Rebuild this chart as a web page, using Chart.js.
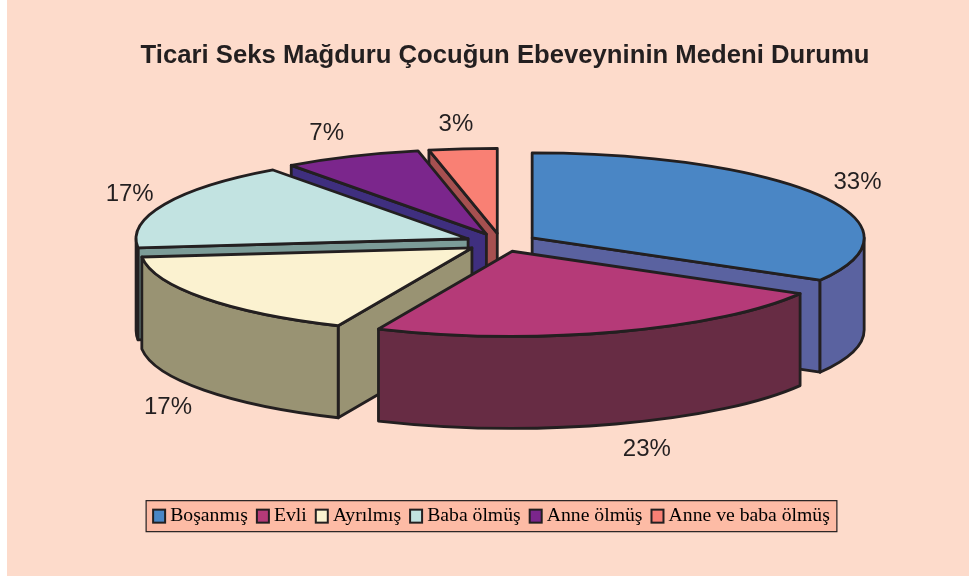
<!DOCTYPE html>
<html>
<head>
  <title>Ticari Seks Mağduru Çocuğun Ebeveyninin Medeni Durumu</title>
  <script src="https://cdn.jsdelivr.net/npm/chart.js"></script>
  <style>
    body { margin: 0; background-color: #fff; overflow: hidden; }
    #frame { position: absolute; left: 7px; top: 0; width: 962px; height: 576px; background-color: #fddbcb; }
    canvas { position: absolute; left: 0; top: 0; }
  </style>
</head>
<body>
  <div id="frame"></div>
  <canvas id="pie" width="969" height="576"></canvas>
  <script>
    const chartTitle = 'Ticari Seks Mağduru Çocuğun Ebeveyninin Medeni Durumu';
    const categories = ['Boşanmış', 'Evli', 'Ayrılmış', 'Baba ölmüş', 'Anne ölmüş', 'Anne ve baba ölmüş'];
    const percents = [33.3, 23.3, 16.7, 16.7, 6.7, 3.3];

    const topColors = ['#4a86c5', '#b53a78', '#fbf2d0', '#c2e3e1', '#7b268c', '#f98074'];
    const sideColors = ['#5a62a0', '#672c44', '#999373', '#7c9c98', '#3f2f7f', '#a65050'];
    const ink = '#231f20';

    // look of the tilted pie, in screen px
    const centerX = 501, centerY = 242.5, radiusX = 332, radiusY = 85, depth = 92;
    const explode = 36 / 332; // share of the radius each slice is pulled out
    const paintOrder = [5, 4, 3, 0, 2, 1]; // back to front
    const labelNudges = [[38, -13], [31, 117], [-36, 109], [-35, -10], [-25, -23], [-7, -24]];

    function sliceGeometry(el) {
      const mid = (el.startAngle + el.endAngle) / 2;
      return {
        mid,
        sx: radiusX / el.outerRadius,
        sy: radiusY / el.outerRadius,
        tipX: centerX + Math.cos(mid) * explode * radiusX,
        tipY: centerY + Math.sin(mid) * explode * radiusY
      };
    }

    function cutFace(ctx, g, angle, color) {
      const x = g.tipX + Math.cos(angle) * radiusX, y = g.tipY + Math.sin(angle) * radiusY;
      ctx.beginPath();
      ctx.moveTo(g.tipX, g.tipY);
      ctx.lineTo(x, y);
      ctx.lineTo(x, y + depth);
      ctx.lineTo(g.tipX, g.tipY + depth);
      ctx.closePath();
      ctx.fillStyle = color;
      ctx.fill();
      ctx.stroke();
    }

    function outerWall(ctx, g, el, color) {
      const a = Math.max(el.startAngle, 0), b = Math.min(el.endAngle, Math.PI);
      if (b <= a) return;
      ctx.beginPath();
      ctx.ellipse(g.tipX, g.tipY, radiusX, radiusY, 0, a, b);
      ctx.ellipse(g.tipX, g.tipY + depth, radiusX, radiusY, 0, b, a, true);
      ctx.closePath();
      ctx.fillStyle = color;
      ctx.fill();
      ctx.stroke();
    }

    const pie3d = {
      id: 'pie3d',
      beforeDraw(chart) {
        // legend frame and its swatches
        const ctx = chart.ctx;
        const boxes = chart.legend.legendHitBoxes;
        const last = boxes[boxes.length - 1];
        const midY = boxes[0].top + boxes[0].height / 2;
        ctx.save();
        ctx.fillStyle = '#fdbba5';
        ctx.strokeStyle = ink;
        ctx.lineWidth = 1.2;
        ctx.fillRect(boxes[0].left - 6, midY - 15.5, last.left + last.width - boxes[0].left + 13, 31);
        ctx.strokeRect(boxes[0].left - 6, midY - 15.5, last.left + last.width - boxes[0].left + 13, 31);
        ctx.lineWidth = 2;
        boxes.forEach((b, i) => {
          ctx.fillStyle = topColors[i];
          ctx.fillRect(b.left + 1, midY - 6.5, 12, 13);
          ctx.strokeRect(b.left + 1, midY - 6.5, 12, 13);
        });
        ctx.restore();
      },
      beforeDatasetsDraw(chart) {
        const ctx = chart.ctx;
        const arcs = chart.getDatasetMeta(0).data;
        ctx.save();
        ctx.strokeStyle = ink;
        ctx.lineWidth = 2.8;
        ctx.lineJoin = 'round';
        paintOrder.forEach(i => {
          const el = arcs[i];
          const g = sliceGeometry(el);
          // only the cut faces turned towards the viewer
          if (Math.cos(el.startAngle) < -1e-6) cutFace(ctx, g, el.startAngle, sideColors[i]);
          if (Math.cos(el.endAngle) > 1e-6) cutFace(ctx, g, el.endAngle, sideColors[i]);
          outerWall(ctx, g, el, sideColors[i]);

          // the top face is the library's own arc, squashed onto the ellipse
          ctx.save();
          ctx.translate(g.tipX, g.tipY);
          ctx.scale(g.sx, g.sy);
          ctx.translate(-el.x, -el.y);
          el.draw(ctx);
          ctx.restore();

          ctx.beginPath();
          ctx.moveTo(g.tipX, g.tipY);
          ctx.ellipse(g.tipX, g.tipY, radiusX, radiusY, 0, el.startAngle, el.endAngle);
          ctx.closePath();
          ctx.stroke();
        });

        ctx.fillStyle = ink;
        ctx.font = '24px "Liberation Sans"';
        ctx.textAlign = 'center';
        ctx.textBaseline = 'middle';
        arcs.forEach((el, i) => {
          const g = sliceGeometry(el);
          const x = g.tipX + Math.cos(g.mid) * radiusX + labelNudges[i][0];
          const y = g.tipY + Math.sin(g.mid) * radiusY + labelNudges[i][1];
          ctx.fillText(Math.round(percents[i]) + '%', x, y);
        });
        ctx.restore();
        return false;
      }
    };

    new Chart(document.getElementById('pie').getContext('2d'), {
      type: 'pie',
      data: {
        labels: categories,
        datasets: [{
          data: percents,
          backgroundColor: topColors,
          borderWidth: 0
        }]
      },
      options: {
        responsive: false,
        animation: false,
        events: [],
        layout: { padding: { left: 13, bottom: 40 } },
        plugins: {
          title: {
            display: true,
            text: chartTitle,
            color: ink,
            font: { family: '"Liberation Sans"', size: 25.7, weight: 'bold' },
            padding: { top: 40, bottom: 10 }
          },
          legend: {
            position: 'bottom',
            labels: {
              color: ink,
              font: { family: '"Liberation Serif"', size: 19.7 },
              boxWidth: 8.25,
              padding: 8,
              generateLabels: () => categories.map((text, i) => ({
                text, index: i, hidden: false,
                fillStyle: 'transparent', strokeStyle: 'transparent', lineWidth: 0
              }))
            }
          },
          tooltip: { enabled: false }
        }
      },
      plugins: [pie3d, {
        id: 'titleShift',
        afterLayout(chart) {
          chart.titleBlock.left += 14;
          chart.titleBlock.right += 14;
        }
      }]
    });
  </script>
</body>
</html>
